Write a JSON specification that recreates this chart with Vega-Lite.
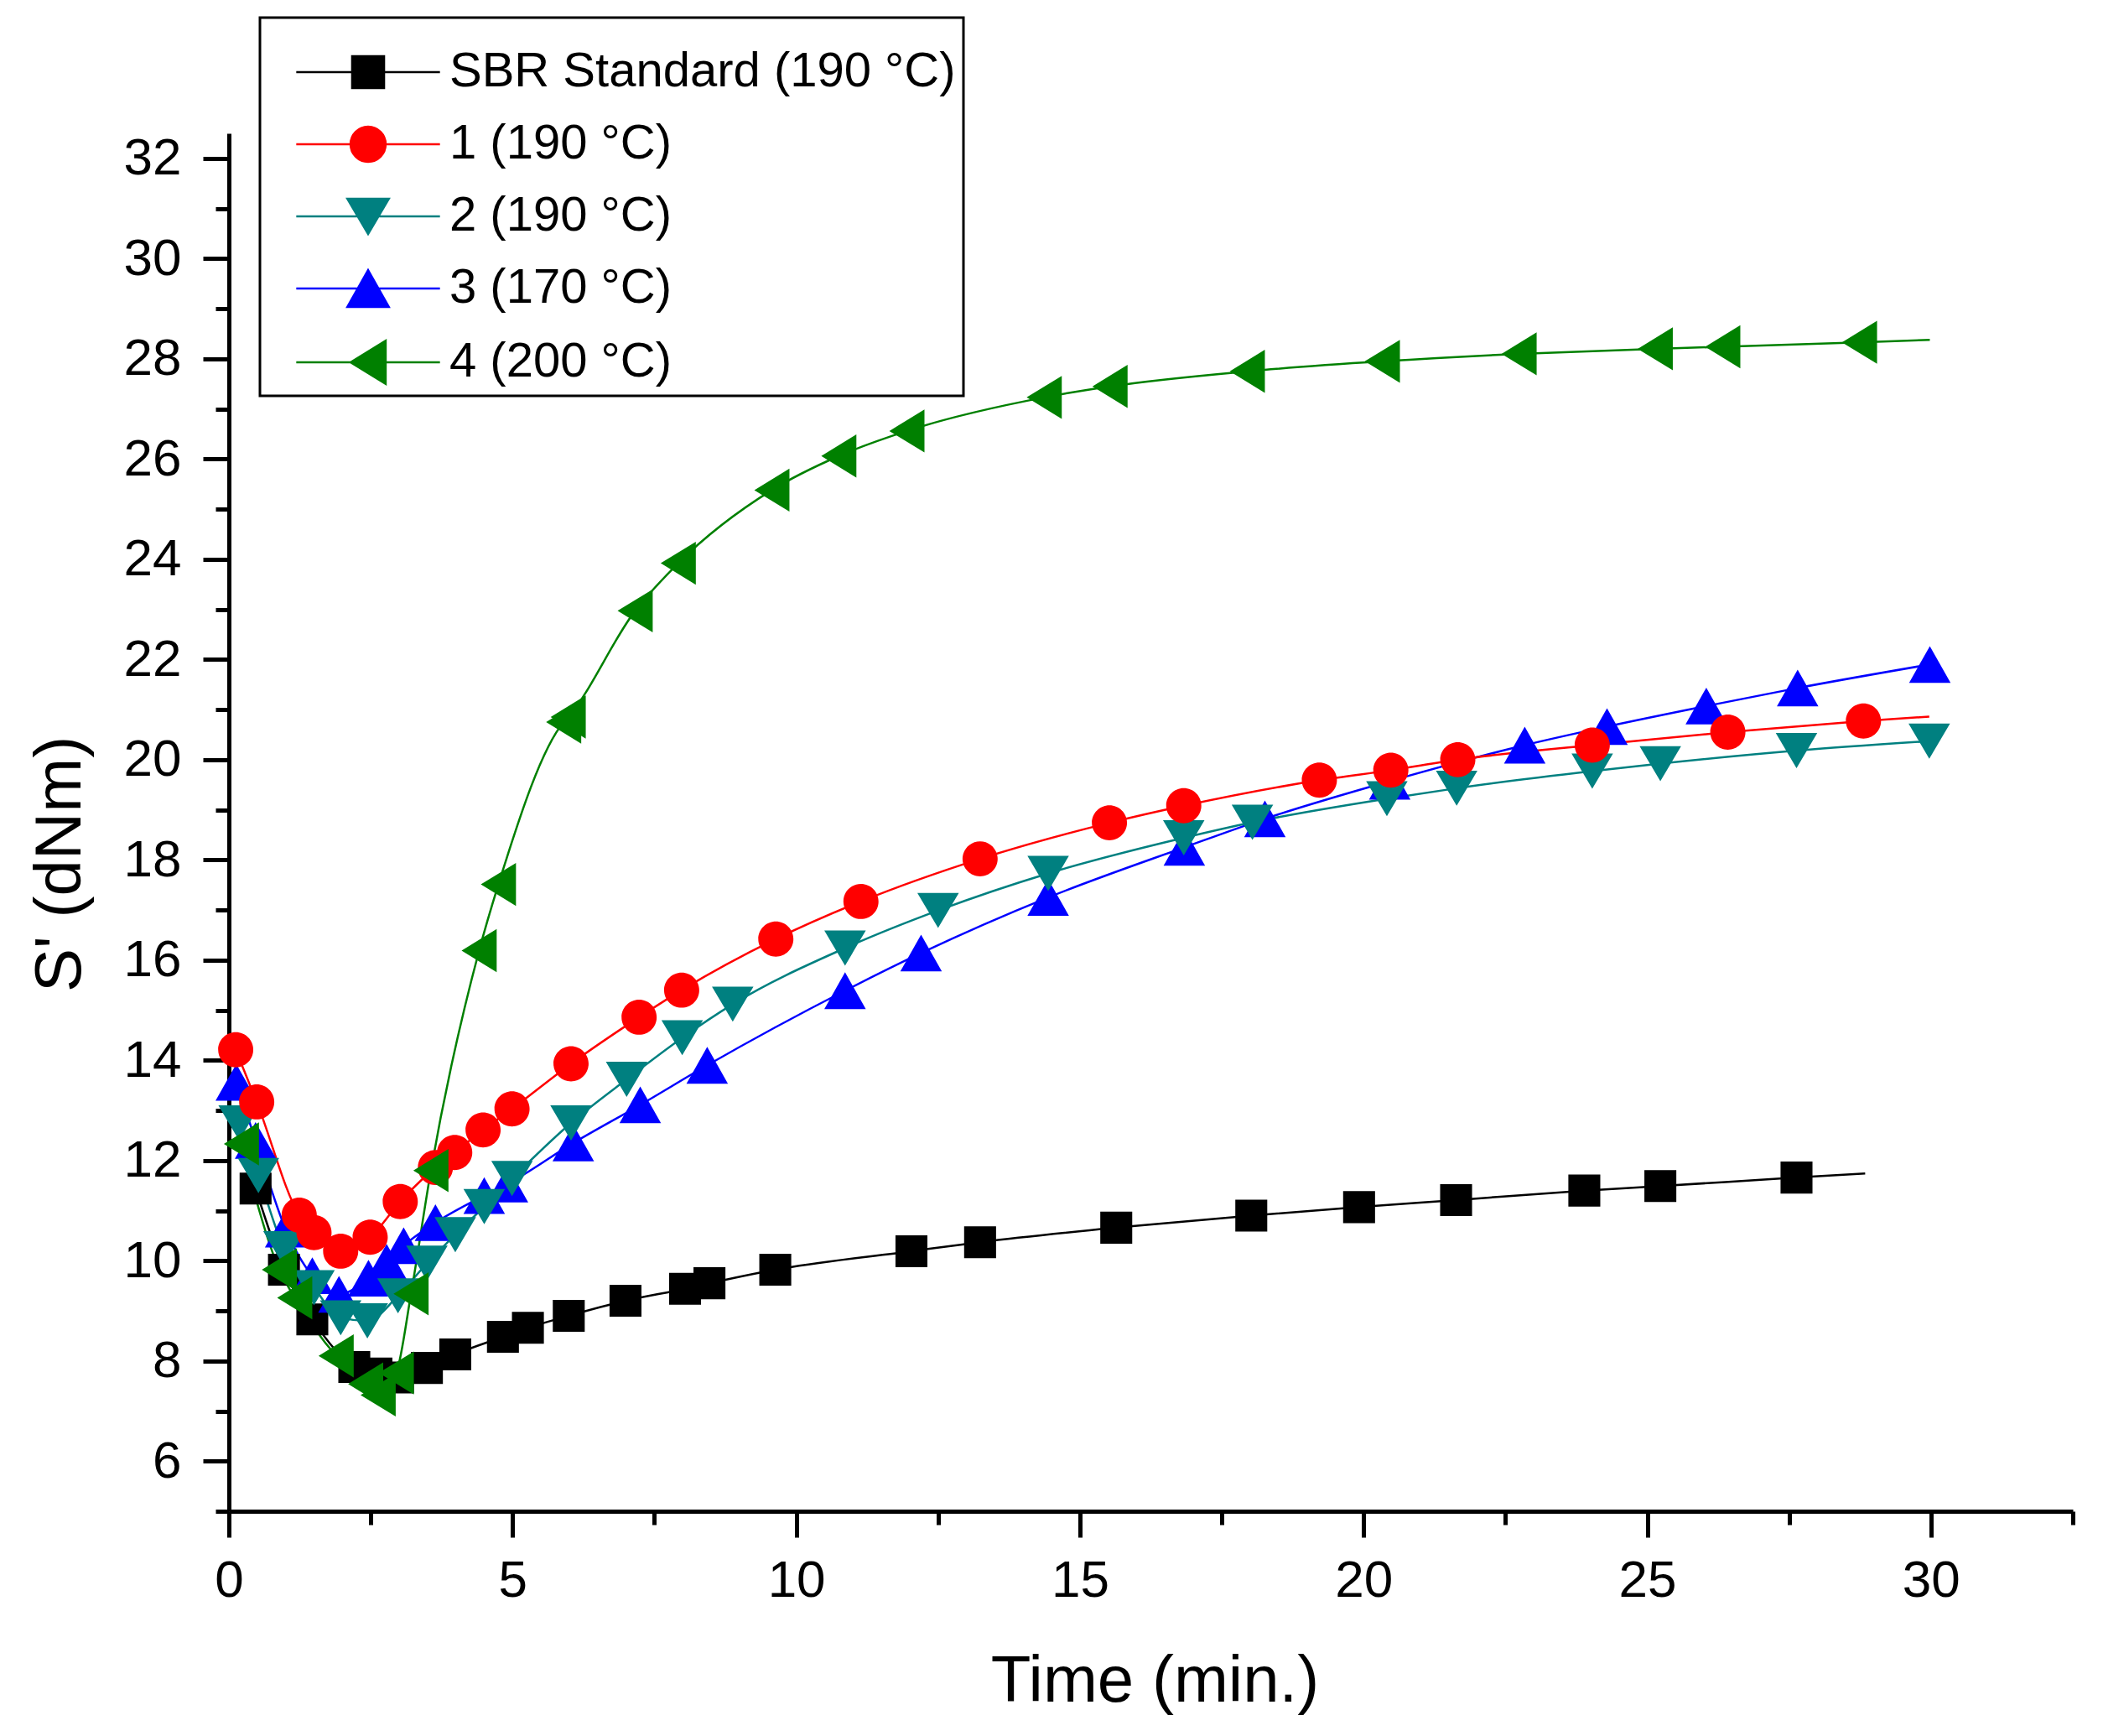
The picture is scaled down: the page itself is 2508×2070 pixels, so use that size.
{
  "$schema": "https://vega.github.io/schema/vega-lite/v6.json",
  "width": 2199,
  "height": 1643,
  "autosize": {"type": "none"},
  "padding": {"left": 273, "top": 159, "right": 36, "bottom": 268},
  "background": "white",
  "data": {
    "values": [
      {"series": "SBR Standard (190 °C)", "time": 0.47, "s": 11.44, "kind": "marker"},
      {"series": "SBR Standard (190 °C)", "time": 0.97, "s": 9.82, "kind": "marker"},
      {"series": "SBR Standard (190 °C)", "time": 1.47, "s": 8.83, "kind": "marker"},
      {"series": "SBR Standard (190 °C)", "time": 2.21, "s": 7.88, "kind": "marker"},
      {"series": "SBR Standard (190 °C)", "time": 2.6, "s": 7.75, "kind": "marker"},
      {"series": "SBR Standard (190 °C)", "time": 2.98, "s": 7.67, "kind": "marker"},
      {"series": "SBR Standard (190 °C)", "time": 3.49, "s": 7.86, "kind": "marker"},
      {"series": "SBR Standard (190 °C)", "time": 3.99, "s": 8.13, "kind": "marker"},
      {"series": "SBR Standard (190 °C)", "time": 4.83, "s": 8.48, "kind": "marker"},
      {"series": "SBR Standard (190 °C)", "time": 5.27, "s": 8.66, "kind": "marker"},
      {"series": "SBR Standard (190 °C)", "time": 5.99, "s": 8.9, "kind": "marker"},
      {"series": "SBR Standard (190 °C)", "time": 6.99, "s": 9.2, "kind": "marker"},
      {"series": "SBR Standard (190 °C)", "time": 8.04, "s": 9.44, "kind": "marker"},
      {"series": "SBR Standard (190 °C)", "time": 8.47, "s": 9.55, "kind": "marker"},
      {"series": "SBR Standard (190 °C)", "time": 9.63, "s": 9.82, "kind": "marker"},
      {"series": "SBR Standard (190 °C)", "time": 12.03, "s": 10.19, "kind": "marker"},
      {"series": "SBR Standard (190 °C)", "time": 13.24, "s": 10.37, "kind": "marker"},
      {"series": "SBR Standard (190 °C)", "time": 15.64, "s": 10.66, "kind": "marker"},
      {"series": "SBR Standard (190 °C)", "time": 18.02, "s": 10.9, "kind": "marker"},
      {"series": "SBR Standard (190 °C)", "time": 19.92, "s": 11.07, "kind": "marker"},
      {"series": "SBR Standard (190 °C)", "time": 21.63, "s": 11.21, "kind": "marker"},
      {"series": "SBR Standard (190 °C)", "time": 23.89, "s": 11.4, "kind": "marker"},
      {"series": "SBR Standard (190 °C)", "time": 25.23, "s": 11.49, "kind": "marker"},
      {"series": "SBR Standard (190 °C)", "time": 27.63, "s": 11.66, "kind": "marker"},
      {"series": "SBR Standard (190 °C)", "time": 28.84, "s": 11.74, "kind": "line"},

      {"series": "3 (170 °C)", "time": 0.13, "s": 13.56, "kind": "marker"},
      {"series": "3 (170 °C)", "time": 0.47, "s": 12.4, "kind": "marker"},
      {"series": "3 (170 °C)", "time": 1.0, "s": 10.63, "kind": "marker"},
      {"series": "3 (170 °C)", "time": 1.47, "s": 9.7, "kind": "marker"},
      {"series": "3 (170 °C)", "time": 1.94, "s": 9.33, "kind": "marker"},
      {"series": "3 (170 °C)", "time": 2.46, "s": 9.65, "kind": "marker"},
      {"series": "3 (170 °C)", "time": 2.78, "s": 9.97, "kind": "marker"},
      {"series": "3 (170 °C)", "time": 3.08, "s": 10.3, "kind": "marker"},
      {"series": "3 (170 °C)", "time": 3.64, "s": 10.76, "kind": "marker"},
      {"series": "3 (170 °C)", "time": 4.5, "s": 11.3, "kind": "marker"},
      {"series": "3 (170 °C)", "time": 4.91, "s": 11.53, "kind": "marker"},
      {"series": "3 (170 °C)", "time": 6.07, "s": 12.35, "kind": "marker"},
      {"series": "3 (170 °C)", "time": 7.25, "s": 13.11, "kind": "marker"},
      {"series": "3 (170 °C)", "time": 8.43, "s": 13.9, "kind": "marker"},
      {"series": "3 (170 °C)", "time": 10.86, "s": 15.39, "kind": "marker"},
      {"series": "3 (170 °C)", "time": 12.2, "s": 16.14, "kind": "marker"},
      {"series": "3 (170 °C)", "time": 14.44, "s": 17.25, "kind": "marker"},
      {"series": "3 (170 °C)", "time": 16.84, "s": 18.25, "kind": "marker"},
      {"series": "3 (170 °C)", "time": 18.26, "s": 18.82, "kind": "marker"},
      {"series": "3 (170 °C)", "time": 20.46, "s": 19.57, "kind": "marker"},
      {"series": "3 (170 °C)", "time": 22.84, "s": 20.29, "kind": "marker"},
      {"series": "3 (170 °C)", "time": 24.29, "s": 20.66, "kind": "marker"},
      {"series": "3 (170 °C)", "time": 26.04, "s": 21.07, "kind": "marker"},
      {"series": "3 (170 °C)", "time": 27.65, "s": 21.43, "kind": "marker"},
      {"series": "3 (170 °C)", "time": 29.98, "s": 21.9, "kind": "marker"},

      {"series": "2 (190 °C)", "time": 0.18, "s": 12.75, "kind": "marker"},
      {"series": "2 (190 °C)", "time": 0.52, "s": 11.7, "kind": "marker"},
      {"series": "2 (190 °C)", "time": 0.97, "s": 10.24, "kind": "marker"},
      {"series": "2 (190 °C)", "time": 1.5, "s": 9.46, "kind": "marker"},
      {"series": "2 (190 °C)", "time": 1.97, "s": 8.86, "kind": "marker"},
      {"series": "2 (190 °C)", "time": 2.44, "s": 8.8, "kind": "marker"},
      {"series": "2 (190 °C)", "time": 2.98, "s": 9.3, "kind": "marker"},
      {"series": "2 (190 °C)", "time": 3.49, "s": 9.95, "kind": "marker"},
      {"series": "2 (190 °C)", "time": 3.99, "s": 10.52, "kind": "marker"},
      {"series": "2 (190 °C)", "time": 4.5, "s": 11.08, "kind": "marker"},
      {"series": "2 (190 °C)", "time": 4.99, "s": 11.64, "kind": "marker"},
      {"series": "2 (190 °C)", "time": 6.03, "s": 12.75, "kind": "marker"},
      {"series": "2 (190 °C)", "time": 7.01, "s": 13.62, "kind": "marker"},
      {"series": "2 (190 °C)", "time": 7.99, "s": 14.45, "kind": "marker"},
      {"series": "2 (190 °C)", "time": 8.88, "s": 15.12, "kind": "marker"},
      {"series": "2 (190 °C)", "time": 10.86, "s": 16.24, "kind": "marker"},
      {"series": "2 (190 °C)", "time": 12.5, "s": 16.99, "kind": "marker"},
      {"series": "2 (190 °C)", "time": 14.44, "s": 17.73, "kind": "marker"},
      {"series": "2 (190 °C)", "time": 16.83, "s": 18.44, "kind": "marker"},
      {"series": "2 (190 °C)", "time": 18.04, "s": 18.75, "kind": "marker"},
      {"series": "2 (190 °C)", "time": 20.41, "s": 19.22, "kind": "marker"},
      {"series": "2 (190 °C)", "time": 21.64, "s": 19.43, "kind": "marker"},
      {"series": "2 (190 °C)", "time": 24.03, "s": 19.77, "kind": "marker"},
      {"series": "2 (190 °C)", "time": 25.23, "s": 19.92, "kind": "marker"},
      {"series": "2 (190 °C)", "time": 27.63, "s": 20.18, "kind": "marker"},
      {"series": "2 (190 °C)", "time": 29.97, "s": 20.37, "kind": "marker"},

      {"series": "1 (190 °C)", "time": 0.12, "s": 14.21, "kind": "marker"},
      {"series": "1 (190 °C)", "time": 0.49, "s": 13.17, "kind": "marker"},
      {"series": "1 (190 °C)", "time": 1.24, "s": 10.91, "kind": "marker"},
      {"series": "1 (190 °C)", "time": 1.5, "s": 10.56, "kind": "marker"},
      {"series": "1 (190 °C)", "time": 1.97, "s": 10.19, "kind": "marker"},
      {"series": "1 (190 °C)", "time": 2.49, "s": 10.47, "kind": "marker"},
      {"series": "1 (190 °C)", "time": 3.02, "s": 11.18, "kind": "marker"},
      {"series": "1 (190 °C)", "time": 3.64, "s": 11.86, "kind": "marker"},
      {"series": "1 (190 °C)", "time": 3.98, "s": 12.16, "kind": "marker"},
      {"series": "1 (190 °C)", "time": 4.48, "s": 12.61, "kind": "marker"},
      {"series": "1 (190 °C)", "time": 4.99, "s": 13.03, "kind": "marker"},
      {"series": "1 (190 °C)", "time": 6.03, "s": 13.93, "kind": "marker"},
      {"series": "1 (190 °C)", "time": 7.23, "s": 14.86, "kind": "marker"},
      {"series": "1 (190 °C)", "time": 7.98, "s": 15.4, "kind": "marker"},
      {"series": "1 (190 °C)", "time": 9.64, "s": 16.42, "kind": "marker"},
      {"series": "1 (190 °C)", "time": 11.14, "s": 17.17, "kind": "marker"},
      {"series": "1 (190 °C)", "time": 13.24, "s": 18.02, "kind": "marker"},
      {"series": "1 (190 °C)", "time": 15.52, "s": 18.74, "kind": "marker"},
      {"series": "1 (190 °C)", "time": 16.83, "s": 19.08, "kind": "marker"},
      {"series": "1 (190 °C)", "time": 19.22, "s": 19.59, "kind": "marker"},
      {"series": "1 (190 °C)", "time": 20.48, "s": 19.79, "kind": "marker"},
      {"series": "1 (190 °C)", "time": 21.66, "s": 20.0, "kind": "marker"},
      {"series": "1 (190 °C)", "time": 24.03, "s": 20.29, "kind": "marker"},
      {"series": "1 (190 °C)", "time": 26.42, "s": 20.55, "kind": "marker"},
      {"series": "1 (190 °C)", "time": 28.81, "s": 20.77, "kind": "marker"},
      {"series": "1 (190 °C)", "time": 29.97, "s": 20.86, "kind": "line"},

      {"series": "4 (200 °C)", "time": 0.22, "s": 12.33, "kind": "marker"},
      {"series": "4 (200 °C)", "time": 0.89, "s": 9.82, "kind": "marker"},
      {"series": "4 (200 °C)", "time": 1.16, "s": 9.26, "kind": "marker"},
      {"series": "4 (200 °C)", "time": 1.89, "s": 8.1, "kind": "marker"},
      {"series": "4 (200 °C)", "time": 2.41, "s": 7.54, "kind": "marker"},
      {"series": "4 (200 °C)", "time": 2.63, "s": 7.32, "kind": "marker"},
      {"series": "4 (200 °C)", "time": 2.95, "s": 7.76, "kind": "marker"},
      {"series": "4 (200 °C)", "time": 3.21, "s": 9.34, "kind": "marker"},
      {"series": "4 (200 °C)", "time": 3.56, "s": 11.8, "kind": "marker"},
      {"series": "4 (200 °C)", "time": 4.41, "s": 16.19, "kind": "marker"},
      {"series": "4 (200 °C)", "time": 4.75, "s": 17.51, "kind": "marker"},
      {"series": "4 (200 °C)", "time": 5.9, "s": 20.75, "kind": "marker"},
      {"series": "4 (200 °C)", "time": 5.98, "s": 20.85, "kind": "marker"},
      {"series": "4 (200 °C)", "time": 7.16, "s": 22.97, "kind": "marker"},
      {"series": "4 (200 °C)", "time": 7.92, "s": 23.92, "kind": "marker"},
      {"series": "4 (200 °C)", "time": 9.57, "s": 25.38, "kind": "marker"},
      {"series": "4 (200 °C)", "time": 10.75, "s": 26.06, "kind": "marker"},
      {"series": "4 (200 °C)", "time": 11.95, "s": 26.56, "kind": "marker"},
      {"series": "4 (200 °C)", "time": 14.37, "s": 27.23, "kind": "marker"},
      {"series": "4 (200 °C)", "time": 15.53, "s": 27.45, "kind": "marker"},
      {"series": "4 (200 °C)", "time": 17.95, "s": 27.75, "kind": "marker"},
      {"series": "4 (200 °C)", "time": 20.33, "s": 27.95, "kind": "marker"},
      {"series": "4 (200 °C)", "time": 22.74, "s": 28.1, "kind": "marker"},
      {"series": "4 (200 °C)", "time": 25.14, "s": 28.2, "kind": "marker"},
      {"series": "4 (200 °C)", "time": 26.33, "s": 28.24, "kind": "marker"},
      {"series": "4 (200 °C)", "time": 28.74, "s": 28.33, "kind": "marker"},
      {"series": "4 (200 °C)", "time": 29.98, "s": 28.38, "kind": "line"}
    ]
  },
  "encoding": {
    "x": {
      "field": "time",
      "type": "quantitative",
      "scale": {"domain": [0, 32.5], "nice": false, "zero": false},
      "axis": {
        "title": "Time (min.)",
        "values": [0, 2.5, 5, 7.5, 10, 12.5, 15, 17.5, 20, 22.5, 25, 27.5, 30, 32.5],
        "tickSize": {"condition": {"test": "datum.value % 5 === 0", "value": 31}, "value": 16},
        "labelExpr": "datum.value % 5 === 0 ? datum.label : ''",
        "labelBaseline": "alphabetic",
        "labelPadding": 70,
        "titleX": 1104,
        "titleY": 226,
        "titleBaseline": "alphabetic",
        "titleAlign": "center"
      }
    },
    "y": {
      "field": "s",
      "type": "quantitative",
      "scale": {"domain": [5, 32.5], "nice": false, "zero": false},
      "axis": {
        "title": "S' (dNm)",
        "values": [5, 6, 7, 8, 9, 10, 11, 12, 13, 14, 15, 16, 17, 18, 19, 20, 21, 22, 23, 24, 25, 26, 27, 28, 29, 30, 31, 32],
        "tickSize": {"condition": {"test": "datum.value % 2 === 0", "value": 31}, "value": 16},
        "labelExpr": "datum.value % 2 === 0 ? datum.label : ''",
        "labelPadding": 26,
        "titleAngle": 270,
        "titleX": -178,
        "titleY": 871,
        "titleBaseline": "alphabetic",
        "titleAlign": "center"
      }
    },
    "color": {
      "field": "series",
      "type": "nominal",
      "scale": {
        "domain": ["SBR Standard (190 °C)", "1 (190 °C)", "2 (190 °C)", "3 (170 °C)", "4 (200 °C)"],
        "range": ["#000000", "#FF0000", "#008080", "#0000FF", "#008000"]
      },
      "legend": {
        "title": " ",
        "orient": "none",
        "legendX": 37,
        "legendY": -138,
        "encode": {
          "symbols": {
            "update": {
              "fill": {"scale": "color", "field": "value"},
              "stroke": {"scale": "color", "field": "value"},
              "strokeWidth": {"value": 2.5},
              "opacity": {"value": 1}
            }
          }
        }
      }
    }
  },
  "layer": [
    {
      "mark": {"type": "line", "interpolate": "monotone", "strokeWidth": 2.5}
    },
    {
      "transform": [{"filter": "datum.kind === 'marker'"}],
      "mark": {"type": "point", "filled": true, "opacity": 1, "strokeWidth": 0, "size": 1450},
      "encoding": {
        "shape": {
          "field": "series",
          "type": "nominal",
          "scale": {
            "domain": ["SBR Standard (190 °C)", "1 (190 °C)", "2 (190 °C)", "3 (170 °C)", "4 (200 °C)"],
            "range": [
              "M-4.5,0H4.5M-1,-1H1V1H-1Z",
              "M-4.5,0H4.5M-1.1,0A1.1,1.1 0 1,1 1.1,0A1.1,1.1 0 1,1 -1.1,0Z",
              "M-4.5,0H4.5M-1.3,-1.1H1.3L0,1.1Z",
              "M-4.5,0H4.5M0,-1.15L1.3,1.15H-1.3Z",
              "M-4.5,0H4.5M-1.1,0L1.1,-1.35V1.35Z"
            ]
          },
          "legend": {
            "title": " ",
            "orient": "none",
            "legendX": 37,
            "legendY": -138,
            "encode": {
              "symbols": {
                "update": {
                  "fill": {"scale": "color", "field": "value"},
                  "stroke": {"scale": "color", "field": "value"},
                  "strokeWidth": {"value": 2.5},
                  "opacity": {"value": 1}
                }
              }
            }
          }
        }
      }
    }
  ],
  "config": {
    "view": {"stroke": null},
    "font": "Liberation Sans",
    "axis": {
      "grid": false,
      "domainColor": "black",
      "domainWidth": 5,
      "tickColor": "black",
      "tickWidth": 5,
      "labelColor": "black",
      "labelFont": "Liberation Sans",
      "labelFontSize": 62,
      "labelFlush": false,
      "labelOverlap": false,
      "labelBound": false,
      "titleColor": "black",
      "titleFont": "Liberation Sans",
      "titleFontSize": 78,
      "titleFontWeight": "normal"
    },
    "legend": {
      "labelFont": "Liberation Sans",
      "labelFontSize": 58,
      "labelColor": "black",
      "labelLimit": 0,
      "symbolSize": 1450,
      "symbolStrokeWidth": 2.5,
      "symbolOffset": 91,
      "labelOffset": 68,
      "rowPadding": 28,
      "padding": 9,
      "strokeColor": "black",
      "strokeWidth": 3,
      "fillColor": "white",
      "titleFontSize": 23,
      "titlePadding": 4
    }
  }
}
